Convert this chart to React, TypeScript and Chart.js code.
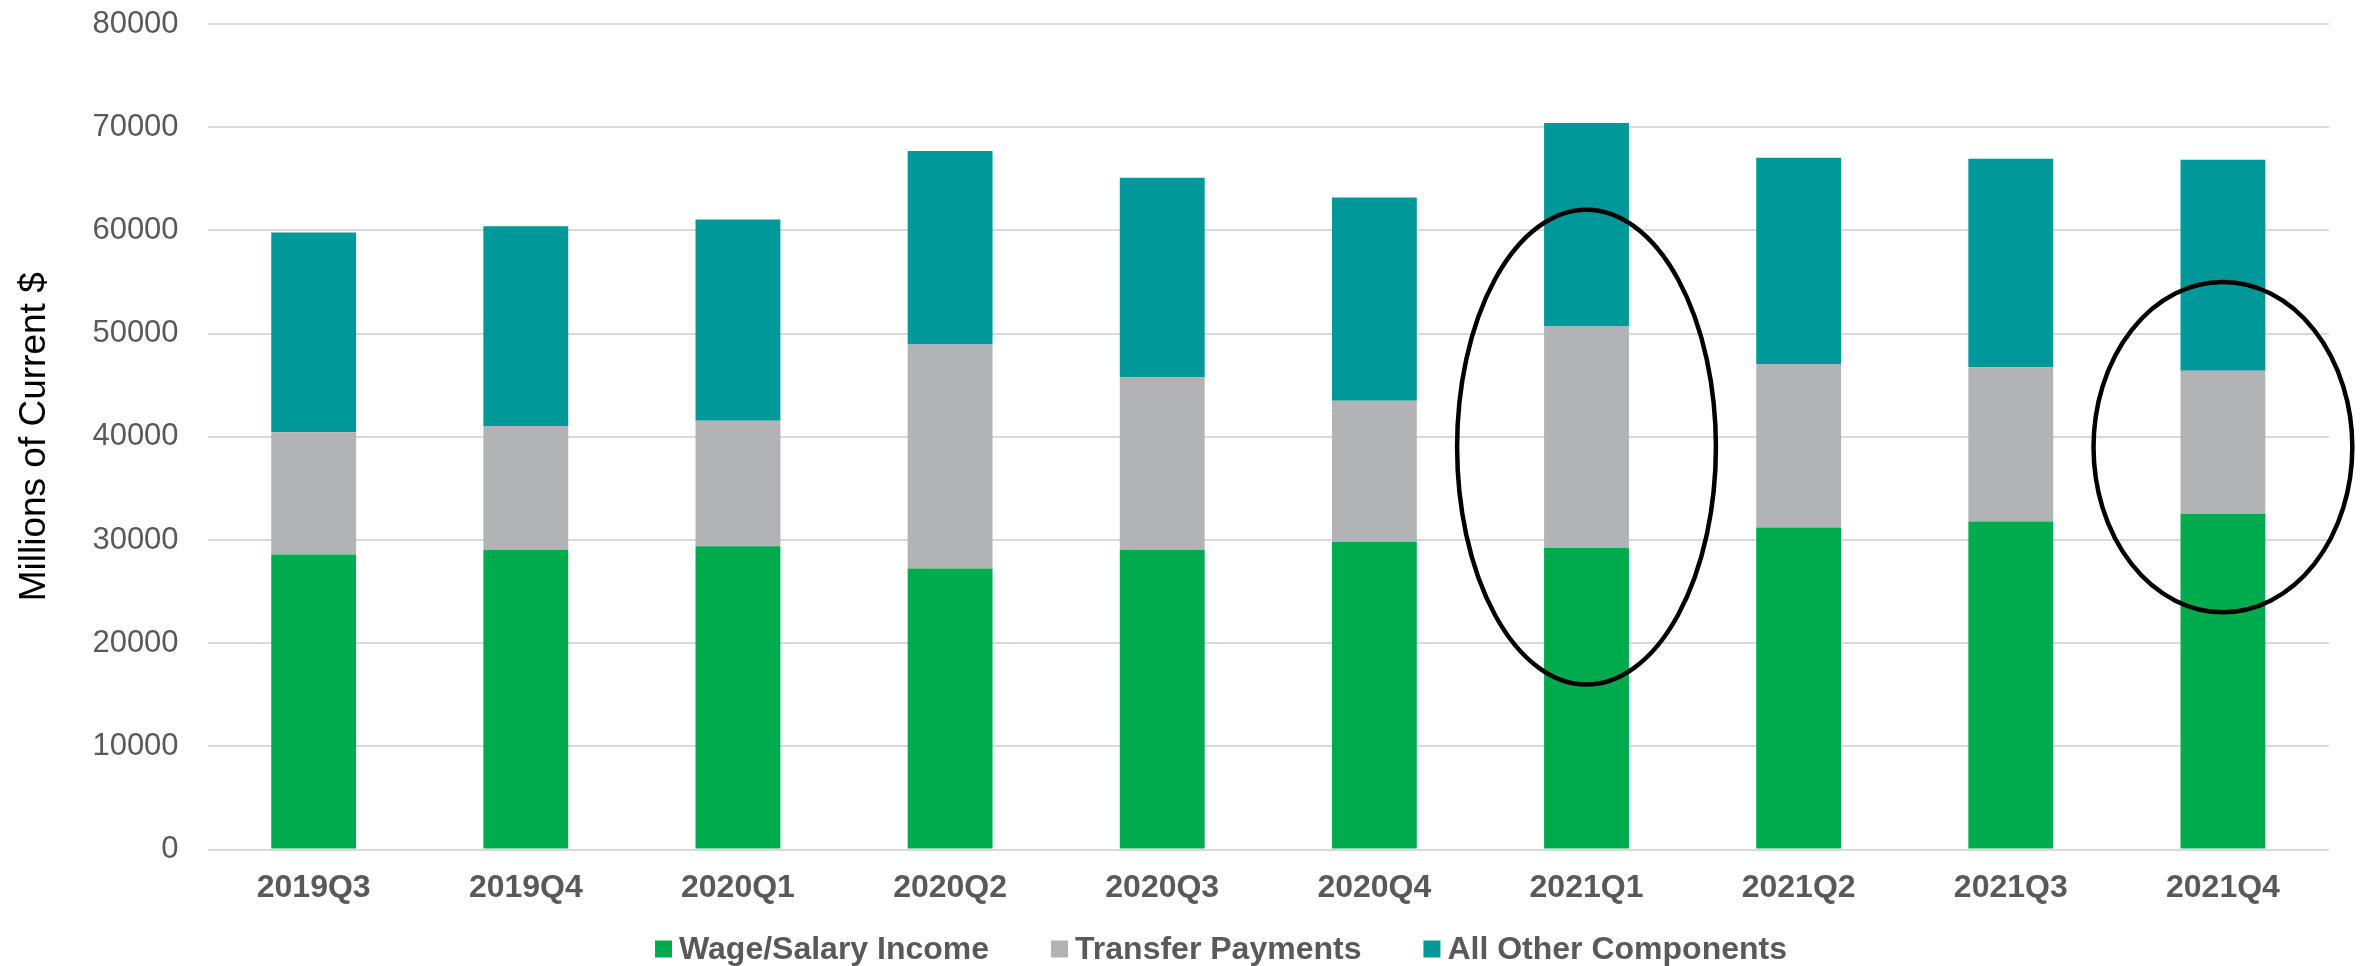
import React, { useEffect, useRef } from 'react';
import { Chart, registerables } from 'chart.js';

Chart.register(...registerables);

// ---- Data ----
const categories = ['2019Q3', '2019Q4', '2020Q1', '2020Q2', '2020Q3', '2020Q4', '2021Q1', '2021Q2', '2021Q3', '2021Q4'];
const wageSalaryIncome = [28600, 29050, 29400, 27250, 29050, 29800, 29250, 31200, 31800, 32550];
const transferPayments = [11850, 12000, 12150, 21700, 16750, 13700, 21450, 15850, 14950, 13850];
const allOtherComponents = [19350, 19350, 19500, 18750, 19300, 19700, 19700, 20000, 20200, 20450];
const seriesLabels = ['Wage/Salary Income', 'Transfer Payments', 'All Other Components'];
const yAxisTitle = 'Millions of Current $';
const yMax = 80000;
const yStep = 10000;

// Highlight ellipses (category index, centre value, half height in value units, half width in category widths)
const highlightIndex = [6, 9];
const highlightCenter = [39000, 39000];
const highlightHalfRange = [23000, 16000];
const highlightHalfWidth = [0.61, 0.61];

// ---- Styles ----
const FONT = "'Liberation Sans', Arial, Helvetica, sans-serif";
const COLORS = ['#00AB4E', '#B2B3B6', '#009899'];
const TEXT_GRAY = '#595959';

export default function App() {
  const ref = useRef<HTMLCanvasElement>(null);

  useEffect(() => {
    if (!ref.current) return;

    const ellipsePlugin = {
      id: 'highlightEllipses',
      afterDatasetsDraw(chart: any) {
        const { ctx } = chart;
        const x = chart.scales.x;
        const y = chart.scales.y;
        const step = x.getPixelForValue(1) - x.getPixelForValue(0);
        ctx.save();
        ctx.strokeStyle = '#000000';
        ctx.lineWidth = 4.5;
        highlightIndex.forEach((idx, i) => {
          const cx = x.getPixelForValue(idx);
          const cy = y.getPixelForValue(highlightCenter[i]);
          const ry = Math.abs(y.getPixelForValue(highlightCenter[i] + highlightHalfRange[i]) - cy);
          const rx = step * highlightHalfWidth[i];
          ctx.beginPath();
          ctx.ellipse(cx, cy, rx, ry, 0, 0, Math.PI * 2);
          ctx.stroke();
        });
        ctx.restore();
      },
    };

    const legendPlugin = {
      id: 'bottomLegend',
      afterDraw(chart: any) {
        const { ctx } = chart;
        const boxSize = 17;
        const boxGap = 7;
        const itemGap = 62;
        const centerX = 1221;
        const centerY = 949;
        ctx.save();
        ctx.font = `bold 32px ${FONT}`;
        ctx.textBaseline = 'middle';
        ctx.textAlign = 'left';
        const widths = chart.data.datasets.map((d: any) => ctx.measureText(d.label).width);
        const total = widths.reduce((a: number, w: number) => a + boxSize + boxGap + w, 0) + itemGap * (widths.length - 1);
        let cursor = centerX - total / 2;
        chart.data.datasets.forEach((d: any, i: number) => {
          ctx.fillStyle = d.backgroundColor;
          ctx.fillRect(cursor, centerY - boxSize / 2, boxSize, boxSize);
          cursor += boxSize + boxGap;
          ctx.fillStyle = TEXT_GRAY;
          ctx.fillText(d.label, cursor, centerY + 1);
          cursor += widths[i] + itemGap;
        });
        ctx.restore();
      },
    };

    const chart = new Chart(ref.current, {
      type: 'bar',
      data: {
        labels: categories,
        datasets: [
          { label: seriesLabels[0], data: wageSalaryIncome, backgroundColor: COLORS[0] },
          { label: seriesLabels[1], data: transferPayments, backgroundColor: COLORS[1] },
          { label: seriesLabels[2], data: allOtherComponents, backgroundColor: COLORS[2] },
        ],
      },
      options: {
        responsive: false,
        animation: false,
        devicePixelRatio: 1,
        layout: { padding: { top: 24, right: 32, bottom: 40, left: 0 } },
        datasets: {
          bar: { barPercentage: 0.4, categoryPercentage: 1.0, borderWidth: 0 },
        },
        plugins: {
          legend: { display: false },
          tooltip: { enabled: false },
          title: { display: false },
        },
        scales: {
          x: {
            stacked: true,
            grid: { display: false, drawTicks: false },
            border: { display: false },
            ticks: {
              color: TEXT_GRAY,
              padding: 19,
              font: { family: FONT, size: 32, weight: 'bold' },
              maxRotation: 0,
              autoSkip: false,
            },
          },
          y: {
            stacked: true,
            min: 0,
            max: yMax,
            grid: { color: '#D9D9D9', lineWidth: 2, drawTicks: false },
            border: { display: false },
            afterFit: (scale: any) => {
              scale.paddingTop = 0;
            },
            ticks: {
              stepSize: yStep,
              color: TEXT_GRAY,
              padding: 29,
              font: { family: FONT, size: 31 },
              callback: (v: any) => String(v),
            },
            title: {
              display: true,
              text: yAxisTitle,
              color: '#000000',
              font: { family: FONT, size: 37 },
              padding: { top: 13, bottom: 6 },
            },
          },
        },
      },
      plugins: [ellipsePlugin, legendPlugin],
    });

    return () => chart.destroy();
  }, []);

  return (
    <div style={{ position: 'fixed', left: 0, top: 0, width: 2361, height: 966, background: '#ffffff' }}>
      <canvas ref={ref} width={2361} height={966} style={{ display: 'block' }} />
    </div>
  );
}
